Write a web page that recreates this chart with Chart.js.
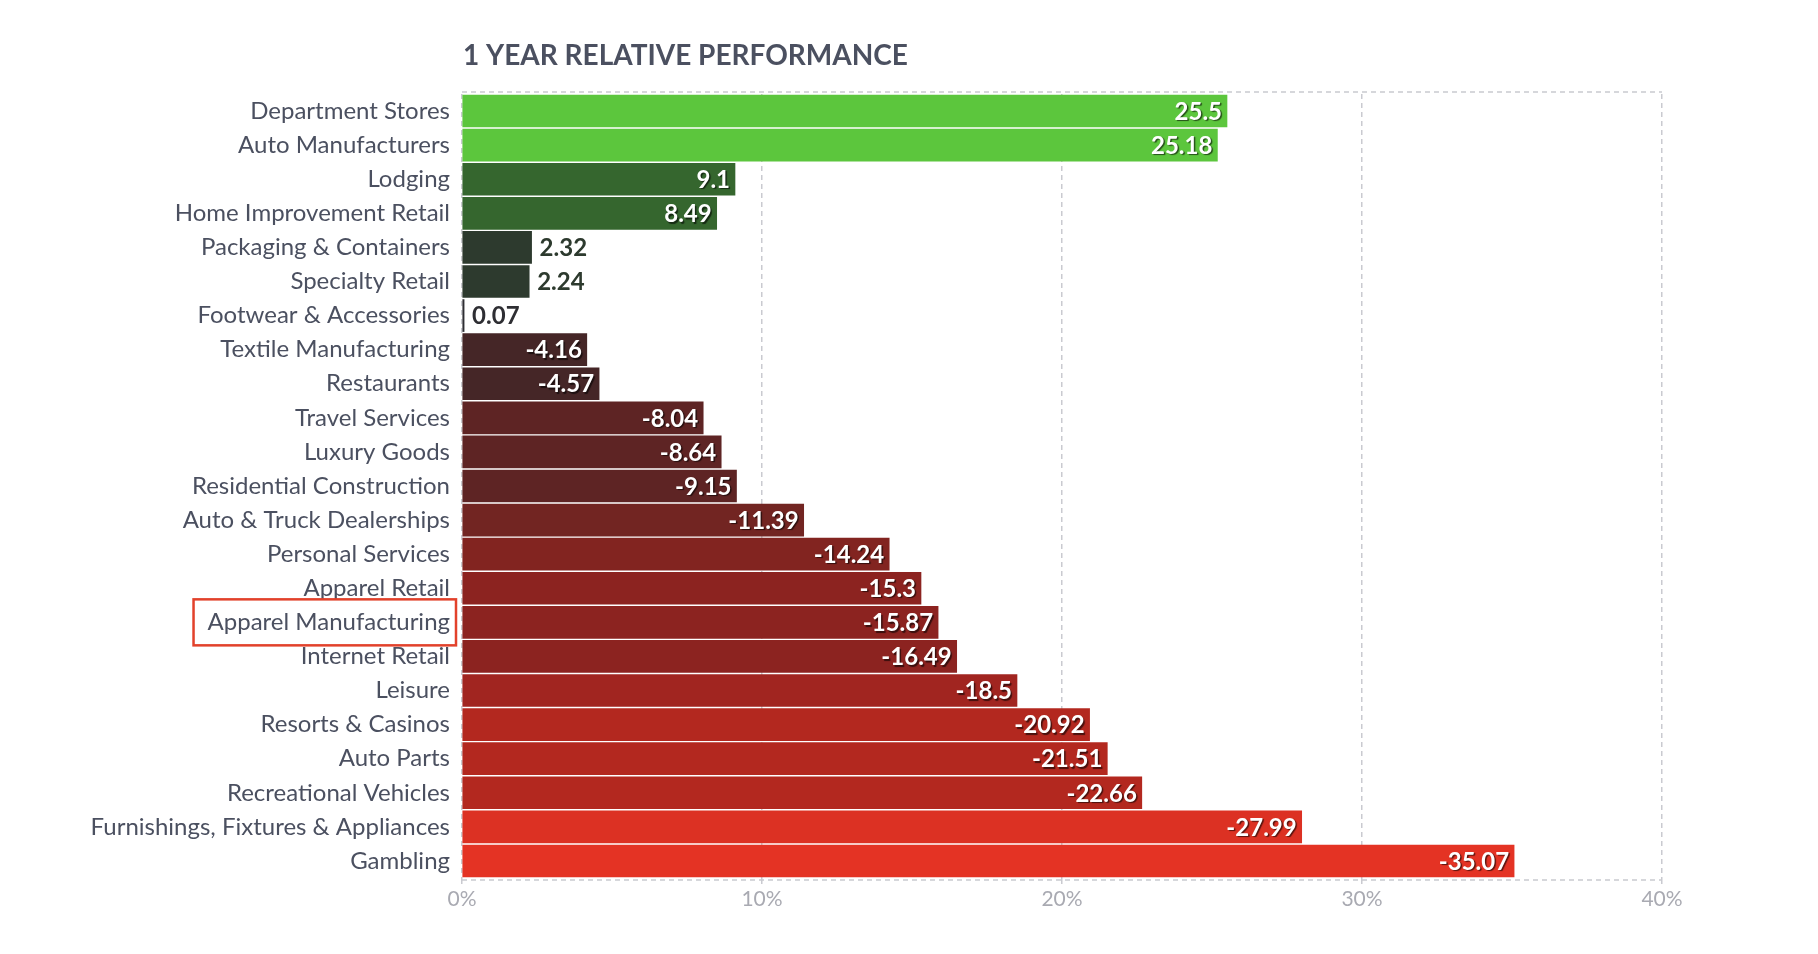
<!DOCTYPE html>
<html>
<head>
<meta charset="utf-8">
<script src="https://cdn.jsdelivr.net/npm/chart.js@4"></script>
<style>
  html, body { margin: 0; padding: 0; background: #ffffff; }
  #wrap { position: relative; width: 1818px; height: 954px; }
</style>
</head>
<body>
<div id="wrap"><canvas id="c"></canvas></div>
<script>
const chartTitle = "1 YEAR RELATIVE PERFORMANCE";
const categories = [
  "Department Stores", "Auto Manufacturers", "Lodging", "Home Improvement Retail",
  "Packaging & Containers", "Specialty Retail", "Footwear & Accessories",
  "Textile Manufacturing", "Restaurants", "Travel Services", "Luxury Goods",
  "Residential Construction", "Auto & Truck Dealerships", "Personal Services",
  "Apparel Retail", "Apparel Manufacturing", "Internet Retail", "Leisure",
  "Resorts & Casinos", "Auto Parts", "Recreational Vehicles",
  "Furnishings, Fixtures & Appliances", "Gambling"
];
const performance = [
  25.5, 25.18, 9.1, 8.49, 2.32, 2.24, 0.07, -4.16, -4.57, -8.04, -8.64,
  -9.15, -11.39, -14.24, -15.3, -15.87, -16.49, -18.5, -20.92, -21.51,
  -22.66, -27.99, -35.07
];
const barColors = [
  "#5cc63d", "#5cc63d", "#35662e", "#35662e", "#2d3a2e", "#2d3a2e", "#2e2e33",
  "#452627", "#452627", "#5e2424", "#5e2424", "#5e2424", "#722522", "#822420",
  "#8c2320", "#8c2320", "#8c2320", "#a12520", "#b3281f", "#b3281f", "#b3281f",
  "#dc3123", "#e43324"
];
const xTicks = [0, 10, 20, 30, 40];
const highlighted = "Apparel Manufacturing";

const FONT = "Lato, 'Noto Sans', sans-serif";
const GRID = "#c9cad0";

const decorPlugin = {
  id: "decor",
  beforeDatasetsDraw(chart) {
    const { ctx, chartArea } = chart;
    ctx.save();
    ctx.strokeStyle = GRID;
    ctx.lineWidth = 1.5;
    ctx.setLineDash([5, 4]);
    [chartArea.top - 2, chartArea.bottom + 2].forEach(y => {
      ctx.beginPath();
      ctx.moveTo(chartArea.left, y);
      ctx.lineTo(chartArea.right, y);
      ctx.stroke();
    });
    ctx.restore();
  },
  afterDatasetsDraw(chart) {
    const { ctx, chartArea } = chart;
    const meta = chart.getDatasetMeta(0);
    ctx.save();
    ctx.font = "bold 24px " + FONT;
    ctx.textBaseline = "middle";
    meta.data.forEach((bar, i) => {
      const txt = String(performance[i]);
      const w = ctx.measureText(txt).width;
      const barW = bar.x - bar.base;
      if (barW > w + 30) {
        ctx.textAlign = "right";
        ctx.shadowColor = "rgba(0,0,0,0.6)";
        ctx.shadowOffsetX = 1.5;
        ctx.shadowOffsetY = 1.5;
        ctx.shadowBlur = 1;
        ctx.fillStyle = "#ffffff";
        ctx.fillText(txt, bar.x - 5, bar.y + 1);
      } else {
        ctx.textAlign = "left";
        ctx.shadowColor = "transparent";
        ctx.shadowOffsetX = 0;
        ctx.shadowOffsetY = 0;
        ctx.shadowBlur = 0;
        ctx.fillStyle = barColors[i];
        ctx.fillText(txt, bar.x + 8, bar.y + 1);
      }
    });
    ctx.restore();

    // title
    ctx.save();
    ctx.font = "bold 28px " + FONT;
    ctx.fillStyle = "#4b5060";
    ctx.textAlign = "left";
    ctx.textBaseline = "middle";
    ctx.fillText(chartTitle, chartArea.left + 1, 56);
    ctx.restore();

    // highlight box around a category label
    const idx = categories.indexOf(highlighted);
    if (idx >= 0) {
      const yScale = chart.scales.y;
      const yc = yScale.getPixelForValue(idx);
      ctx.save();
      ctx.font = "24px " + FONT;
      const tw = ctx.measureText(highlighted).width;
      const right = chartArea.left - 6;
      const left = chartArea.left - 12 - tw - 14;
      ctx.strokeStyle = "#e2412b";
      ctx.lineWidth = 2.5;
      ctx.strokeRect(left, yc - 23, right - left, 46);
      ctx.restore();
    }
  }
};

new Chart(document.getElementById("c"), {
  type: "bar",
  data: {
    labels: categories,
    datasets: [{
      data: performance.map(v => Math.abs(v)),
      backgroundColor: barColors,
      borderWidth: 0,
      barThickness: 32,
      categoryPercentage: 1,
      barPercentage: 1
    }]
  },
  options: {
    indexAxis: "y",
    responsive: true,
    maintainAspectRatio: false,
    animation: false,
    devicePixelRatio: 1,
    layout: { padding: { top: 94, right: 156, bottom: 0, left: 0 } },
    plugins: {
      legend: { display: false },
      tooltip: { enabled: false },
      title: { display: false }
    },
    scales: {
      x: {
        type: "linear",
        min: 0,
        max: 40,
        afterBuildTicks(scale) { scale.ticks = xTicks.map(v => ({ value: v })); },
        afterFit(scale) { scale.height = 76; },
        ticks: {
          color: "#a9aab2",
          font: { family: FONT, size: 21 },
          padding: 3,
          callback: v => v + "%"
        },
        grid: {
          color: GRID,
          lineWidth: 1.5,
          drawTicks: true,
          tickLength: 6,
          tickColor: GRID
        },
        border: { display: false, dash: [5, 4] }
      },
      y: {
        afterFit(scale) { scale.width = 462; },
        ticks: {
          color: "#4b5060",
          font: { family: FONT, size: 24 },
          padding: 12,
          autoSkip: false
        },
        grid: { display: false, drawTicks: false },
        border: { display: false }
      }
    }
  },
  plugins: [decorPlugin]
});
</script>
</body>
</html>
